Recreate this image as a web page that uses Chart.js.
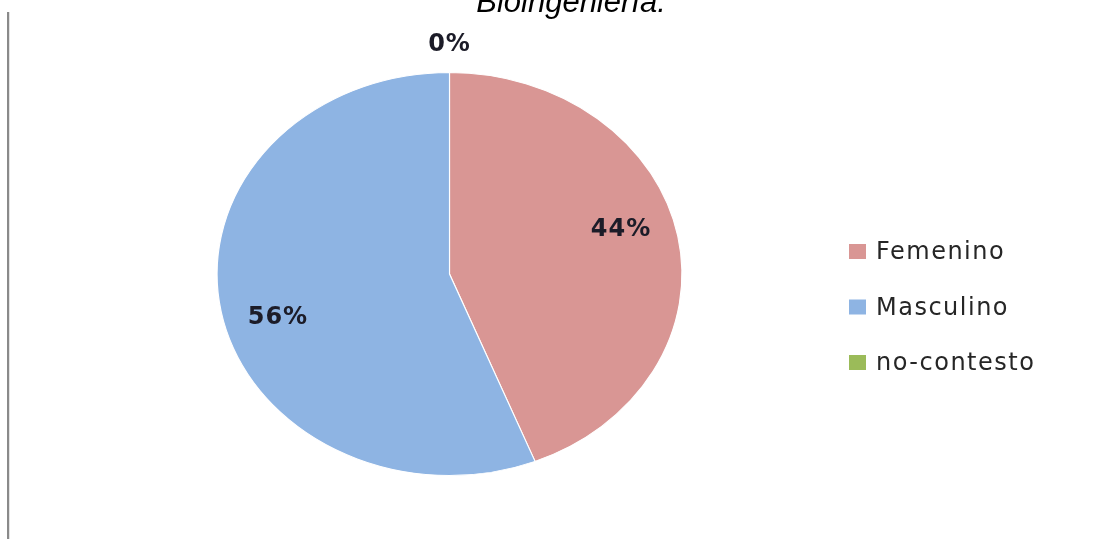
<!DOCTYPE html>
<html>
<head>
<meta charset="utf-8">
<script src="https://cdn.jsdelivr.net/npm/chart.js@4.4.0/dist/chart.umd.min.js"></script>
<style>
  html, body { margin: 0; padding: 0; background: #fff; }
  #wrap { width: 1118px; height: 539px; }
</style>
</head>
<body>
<div id="wrap"><canvas id="pieChart" width="1118" height="539"></canvas></div>
<script>
// data
const categories = ["Femenino", "Masculino", "no-contesto"];
const percentValues = [44, 56, 0];
const sliceColors = ["#D99694", "#8EB4E3", "#9BBB59"];
const titleText = "Bioingeniería.";

// pie is stretched sideways like the original (ellipse)
const stretchX = 233 / 202;

function pieCenter(chart) {
  const arc = chart.getDatasetMeta(0).data[0];
  return { x: arc.x, y: arc.y, r: arc.outerRadius };
}

const stretchPlugin = {
  id: "stretch",
  beforeDatasetsDraw(chart) {
    const c = pieCenter(chart);
    const ctx = chart.ctx;
    ctx.save();
    ctx.translate(c.x, c.y);
    ctx.scale(stretchX, 1);
    ctx.translate(-c.x, -c.y);
  },
  afterDatasetsDraw(chart) {
    chart.ctx.restore();
  }
};

const extrasPlugin = {
  id: "extras",
  afterDraw(chart) {
    const ctx = chart.ctx;
    const c = pieCenter(chart);
    ctx.save();

    // left border line
    ctx.fillStyle = "#8a8a8a";
    ctx.fillRect(7, 12, 2, 527);
    ctx.fillStyle = "#e4e4e4";
    ctx.fillRect(9, 12, 1, 527);

    // cut-off title
    ctx.fillStyle = "#000";
    ctx.font = "italic 31px 'Liberation Sans', Arial, sans-serif";
    ctx.textAlign = "center";
    ctx.textBaseline = "alphabetic";
    ctx.fillText(titleText, 571, 12);

    // percent labels
    ctx.font = "bold 24px 'DejaVu Sans', sans-serif";
    ctx.letterSpacing = "1px";
    ctx.fillStyle = "#1c1c28";
    ctx.textBaseline = "middle";
    const meta = chart.getDatasetMeta(0);
    meta.data.forEach((arc, i) => {
      let mid = (arc.startAngle + arc.endAngle) / 2 - 0.1;
      let r = c.r * 0.77;
      if (percentValues[i] === 0) { r = c.r + 28; mid = -Math.PI / 2; }
      const x = c.x + Math.cos(mid) * r * stretchX;
      const y = c.y + Math.sin(mid) * r;
      ctx.fillText(percentValues[i] + "%", x, y);
    });

    // legend
    ctx.font = "24px 'DejaVu Sans', sans-serif";
    ctx.letterSpacing = "1.5px";
    ctx.textAlign = "left";
    categories.forEach((name, i) => {
      const y = 252 + i * 55.5;
      ctx.fillStyle = sliceColors[i];
      ctx.fillRect(849, y - 8, 17, 15);
      ctx.fillStyle = "#262626";
      ctx.fillText(name, 876, y + 1);
    });
    ctx.restore();
  }
};

const ctx = document.getElementById("pieChart").getContext("2d");
new Chart(ctx, {
  type: "pie",
  data: {
    labels: categories,
    datasets: [{
      data: percentValues,
      backgroundColor: sliceColors,
      borderColor: "#ffffff",
      borderWidth: 1
    }]
  },
  options: {
    responsive: false,
    animation: false,
    layout: { padding: { left: 247, right: 466, top: 72, bottom: 63 } },
    plugins: {
      legend: { display: false },
      title: { display: false },
      tooltip: { enabled: false }
    }
  },
  plugins: [stretchPlugin, extrasPlugin]
});
</script>
</body>
</html>
